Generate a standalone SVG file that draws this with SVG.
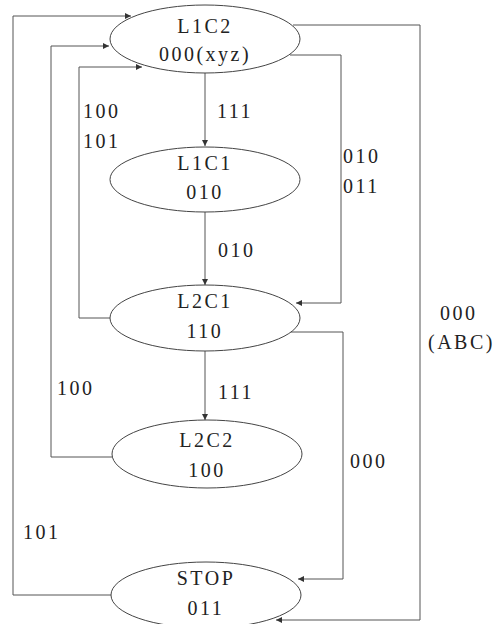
<svg xmlns="http://www.w3.org/2000/svg" width="497" height="624" viewBox="0 0 497 624">
<defs>
<marker id="arr" viewBox="0 0 10 10" refX="10" refY="5" markerWidth="8" markerHeight="6" markerUnits="userSpaceOnUse" orient="auto">
<path d="M0,0 L10,5 L0,10 z" fill="#333"/>
</marker>
<style>
.node ellipse{fill:#fff;stroke:#444;stroke-width:1}
.t{font-family:"Liberation Serif","Times New Roman",serif;font-size:20px;fill:#222;letter-spacing:2.5px}
.c{text-anchor:middle}
.edges path{fill:none;stroke:#555;stroke-width:1;marker-end:url(#arr)}
.edges path.n{marker-end:none}
</style>
</defs>
<rect width="497" height="624" fill="#fff"/>
<g class="edges" id="connectors">
<path d="M205,72 L205,146"/>
<path d="M205,212 L205,285"/>
<path d="M205,351 L205,420"/>
<path d="M293,25 L420,25 L420,620 L276,620"/>
<path d="M290,55 L341,55 L341,303 L296,303"/>
<path d="M290,332 L343,332 L343,579 L298,579"/>
<path d="M110,318 L79,318 L79,67 L142,67"/>
<path d="M113,457 L51,457 L51,46 L109,46"/>
<path d="M112,595 L13,595 L13,16 L131,16"/>
</g>
<g id="labels" class="t">
<text x="217" y="118">111</text>
<text x="83" y="118">100</text>
<text x="83" y="148">101</text>
<text x="343" y="163">010</text>
<text x="343" y="193">011</text>
<text x="218" y="257">010</text>
<text x="440" y="320">000</text>
<text x="428" y="349">(ABC)</text>
<text x="57" y="395">100</text>
<text x="218" y="399">111</text>
<text x="350" y="468">000</text>
<text x="23" y="539">101</text>
</g>
<g class="node" id="L1C2">
<ellipse cx="205" cy="39" rx="95" ry="34"/>
<text class="t c" x="205" y="33">L1C2</text>
<text class="t c" x="205" y="61">000(xyz)</text>
</g>
<g class="node" id="L1C1">
<ellipse cx="205" cy="179.5" rx="95" ry="32.5"/>
<text class="t c" x="205" y="170">L1C1</text>
<text class="t c" x="205" y="199">010</text>
</g>
<g class="node" id="L2C1">
<ellipse cx="205" cy="318" rx="95" ry="33"/>
<text class="t c" x="205" y="308">L2C1</text>
<text class="t c" x="205" y="338">110</text>
</g>
<g class="node" id="L2C2">
<ellipse cx="207" cy="454" rx="95" ry="34"/>
<text class="t c" x="207" y="447">L2C2</text>
<text class="t c" x="207" y="477">100</text>
</g>
<g class="node" id="STOP">
<ellipse cx="206" cy="595" rx="95" ry="33"/>
<text class="t c" x="206" y="585">STOP</text>
<text class="t c" x="206" y="615">011</text>
</g>
</svg>
